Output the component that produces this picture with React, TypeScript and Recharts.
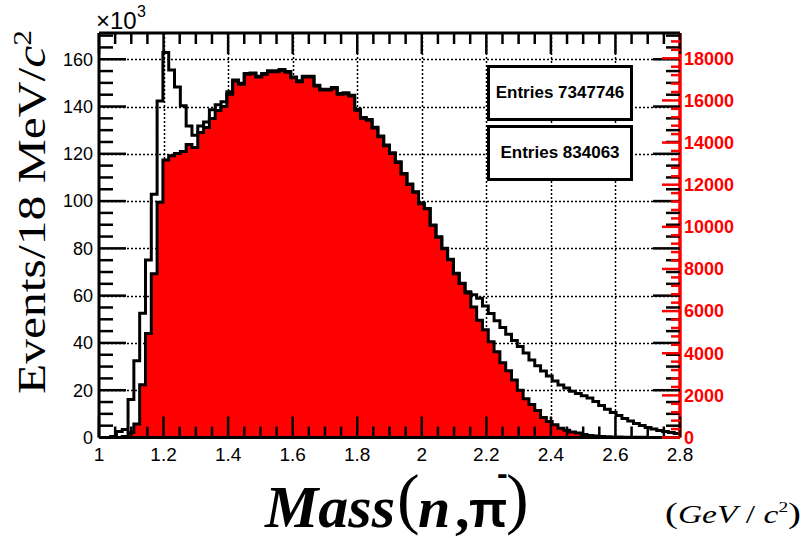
import React from 'react';
import { ComposedChart, Area, Line, XAxis, YAxis, ReferenceLine, CartesianGrid } from 'recharts';

// ---- data: histogram bins, 18 MeV wide, starting at 1.0 GeV ----
const binStart = 1.0;
const binWidth = 0.018;

// all events (left axis, units of 10^3)
const allEntries = [
  0, 0, 0.4, 2.5, 3.4, 16.1, 32.5, 52.6, 75.1, 102.9,
  142.3, 162.9, 155.4, 148.3, 140.3, 131.8, 127.9, 131.8, 133.5, 138.6,
  140.7, 142.0, 146.2, 151.2, 149.8, 154.0, 154.2, 152.8, 154.0, 155.1,
  155.1, 155.7, 154.8, 152.5, 150.9, 152.8, 152.8, 149.0, 147.3, 147.3,
  148.1, 145.5, 145.8, 144.8, 138.8, 135.4, 134.5, 131.2, 127.5, 123.7,
  120.4, 116.6, 111.7, 107.2, 104.0, 99.1, 96.9, 89.9, 84.9, 80.0,
  75.4, 69.5, 65.2, 61.7, 60.4, 58.9, 55.6, 52.4, 49.4, 46.5,
  43.7, 41.0, 38.5, 35.7, 32.8, 30.4, 28.1, 26.0, 23.9, 22.2,
  20.9, 19.6, 18.6, 17.7, 16.7, 15.2, 13.5, 12.0, 10.6, 9.3,
  8.0, 7.0, 5.9, 5.1, 4.2, 3.6, 3.0, 2.5, 2.1, 1.7,
];

// selected events (right axis)
const selectedEntries = [
  0, 0, 0, 0, 47, 237, 639, 2507, 4939, 7778,
  11165, 13171, 13374, 13483, 13578, 13909, 13767, 14477, 14713, 15139,
  15518, 15707, 16294, 16923, 16767, 17240, 17268, 17112, 17240, 17363,
  17363, 17429, 17334, 17079, 16890, 17112, 17112, 16686, 16497, 16497,
  16577, 16294, 16322, 16213, 15537, 15158, 15063, 14685, 14273, 13848,
  13483, 13058, 12509, 12003, 11638, 11090, 10853, 10063, 9509, 8961,
  8440, 7778, 7305, 6860, 6198, 5568, 5109, 4542, 4069, 3548,
  3170, 2730, 2247, 1845, 1561, 1277, 946, 757, 601, 445,
  345, 260, 213, 142, 95, 71, 47, 33, 24, 19,
  14, 10, 8, 6, 4, 3, 2, 1, 1, 0,
];

const xMajorTicks = [1, 1.2, 1.4, 1.6, 1.8, 2, 2.2, 2.4, 2.6, 2.8];
const leftMajorTicks = [0, 20, 40, 60, 80, 100, 120, 140, 160];
const rightMajorTicks = [0, 2000, 4000, 6000, 8000, 10000, 12000, 14000, 16000, 18000];
const gridX = [1.2, 1.4, 1.6, 1.8, 2, 2.2, 2.4, 2.6];
const gridY = [20, 40, 60, 80, 100, 120, 140, 160];
const legendEntries = ['Entries 7347746', 'Entries 834063'];

const X_DOMAIN: [number, number] = [1, 2.8];
const LEFT_DOMAIN: [number, number] = [0, 171.1];
const RIGHT_DOMAIN: [number, number] = [0, 19200];

// ---- layout ----
const W = 804;
const H = 538;
const PL = 99;
const PR = 680;
const PT = 33;
const PB = 437.5;
const LEFT_W = 60;
const RIGHT_W = 60;
const BOTTOM_H = 30;
const TOP_H = 20;
const SANS = '"Liberation Sans", Arial, sans-serif';
const SERIF = '"Liberation Serif", "Times New Roman", serif';

const data = allEntries.map((v, i) => ({
  x: +(binStart + i * binWidth).toFixed(3),
  all: v,
  sel: selectedEntries[i],
}));
data.push({ x: X_DOMAIN[1], all: allEntries[allEntries.length - 1], sel: selectedEntries[selectedEntries.length - 1] });

// minor ticks between majors
const withMinors = (majors: number[], n: number) => {
  const out: number[] = [];
  for (let i = 0; i < majors.length - 1; i++) {
    const step = (majors[i + 1] - majors[i]) / n;
    for (let k = 0; k < n; k++) out.push(+(majors[i] + k * step).toFixed(4));
  }
  out.push(majors[majors.length - 1]);
  return out;
};
const xTicks = withMinors(xMajorTicks, 4);
const leftTicks = [...withMinors(leftMajorTicks, 4), 165, 170];
const rightTicks = [...withMinors(rightMajorTicks, 5), 18400, 18800];

const isIn = (v: number, arr: number[]) => arr.some((a) => Math.abs(a - v) < 1e-6);

// grid positions through the axis scale
const scaleVals = (ax: any, vals: number[]) => {
  if (!ax) return [];
  const s = ax.scale;
  let out: number[] = [];
  if (typeof s === 'function') out = vals.map((v) => s(v));
  else if (s && typeof s.map === 'function') out = vals.map((v) => s.map(v));
  if (out.length && out.every((p) => Number.isFinite(p))) return out.map((p) => Math.round(p) + 0.5);
  const ticks = Array.isArray(ax.ticks) ? ax.ticks : [];
  return ticks
    .filter((t: any) => t && typeof t === 'object' && isIn(t.value, vals) && Number.isFinite(t.coordinate))
    .map((t: any) => Math.round(t.coordinate) + 0.5);
};
const vGen = (p: any) => scaleVals(p && p.xAxis, gridX);
const hGen = (p: any) => scaleVals(p && p.yAxis, gridY);

const BottomTick = (props: any) => {
  const { x, payload } = props;
  const v = payload.value;
  const major = isIn(v, xMajorTicks);
  const len = major ? 21 : 11;
  return (
    <g>
      <line x1={x} x2={x} y1={PB} y2={PB - len} stroke="#000" strokeWidth={2.5} />
      <line x1={x} x2={x} y1={PT} y2={PT + len} stroke="#000" strokeWidth={2.5} />
      {major && (
        <text x={x} y={PB + 23} textAnchor="middle" fontSize={19} fontFamily={SANS} fill="#000">
          {String(+v.toFixed(2))}
        </text>
      )}
    </g>
  );
};

const LeftTick = (props: any) => {
  const { y, payload } = props;
  const v = payload.value;
  const major = isIn(v, leftMajorTicks);
  const len = major ? 27 : 14;
  return (
    <g>
      <line x1={PL} x2={PL + len} y1={y} y2={y} stroke="#000" strokeWidth={2.5} />
      <line x1={PR} x2={PR - len} y1={y} y2={y} stroke="#000" strokeWidth={2.5} />
      {major && (
        <text x={PL - 6} y={y} dy="0.35em" textAnchor="end" fontSize={18} fontFamily={SANS} fill="#000">
          {v}
        </text>
      )}
    </g>
  );
};

const RightTick = (props: any) => {
  const { y, payload } = props;
  const v = payload.value;
  const major = isIn(v, rightMajorTicks);
  const len = major ? 18 : 9;
  return (
    <g>
      <line x1={PR} x2={PR - len} y1={y} y2={y} stroke="#ff0000" strokeWidth={2.5} />
      {major && (
        <text x={PR + 4} y={y} dy="0.35em" textAnchor="start" fontSize={18} fontWeight="bold" fontFamily={SANS} fill="#ff0000">
          {v}
        </text>
      )}
    </g>
  );
};

export default function App() {
  return (
    <div style={{ position: 'absolute', left: 0, top: 0, width: W, height: H, background: '#fff' }}>
      <ComposedChart
        width={W}
        height={H}
        data={data}
        margin={{ left: PL - LEFT_W, right: W - PR - RIGHT_W, top: PT - TOP_H, bottom: H - PB - BOTTOM_H }}
      >
        <CartesianGrid
          xAxisId="b"
          yAxisId="l"
          stroke="#000"
          strokeWidth={1.5}
          strokeDasharray="2 2"
          verticalValues={gridX}
          horizontalValues={gridY}
          verticalCoordinatesGenerator={vGen}
          horizontalCoordinatesGenerator={hGen}
        />
        <XAxis
          xAxisId="b"
          dataKey="x"
          type="number"
          domain={X_DOMAIN}
          allowDataOverflow
          ticks={xTicks}
          interval={0}
          height={BOTTOM_H}
          tickLine={false}
          tickSize={0}
          tickMargin={0}
          tick={<BottomTick />}
          axisLine={{ stroke: '#000', strokeWidth: 3 }}
        />
        <XAxis
          xAxisId="t"
          orientation="top"
          type="number"
          domain={X_DOMAIN}
          allowDataOverflow
          height={TOP_H}
          tick={false}
          tickLine={false}
          axisLine={{ stroke: '#000', strokeWidth: 3 }}
        />
        <YAxis
          yAxisId="l"
          orientation="left"
          type="number"
          domain={LEFT_DOMAIN}
          allowDataOverflow
          ticks={leftTicks}
          interval={0}
          width={LEFT_W}
          tickLine={false}
          tickSize={0}
          tickMargin={0}
          tick={<LeftTick />}
          axisLine={{ stroke: '#000', strokeWidth: 3 }}
        />
        <YAxis
          yAxisId="r"
          orientation="right"
          type="number"
          domain={RIGHT_DOMAIN}
          allowDataOverflow
          ticks={rightTicks}
          interval={0}
          width={RIGHT_W}
          tickLine={false}
          tickSize={0}
          tickMargin={0}
          tick={<RightTick />}
          axisLine={{ stroke: '#ff0000', strokeWidth: 3.5 }}
        />
        <Area
          xAxisId="b"
          yAxisId="r"
          dataKey="sel"
          type="stepAfter"
          fill="#ff0000"
          fillOpacity={1}
          stroke="#000"
          strokeWidth={3}
          dot={false}
          activeDot={false}
          isAnimationActive={false}
        />
        <Line
          xAxisId="b"
          yAxisId="l"
          dataKey="all"
          type="stepAfter"
          stroke="#000"
          strokeWidth={3}
          dot={false}
          activeDot={false}
          isAnimationActive={false}
        />
        <ReferenceLine xAxisId="b" yAxisId="l" y={0} stroke="#000" strokeWidth={3} />
      </ComposedChart>

      {legendEntries.map((t, i) => (
        <div
          key={t}
          style={{
            position: 'absolute',
            left: 487,
            top: 65 + i * 60,
            width: 146,
            height: 56,
            boxSizing: 'border-box',
            border: '3px solid #000',
            background: '#fff',
            display: 'flex',
            alignItems: 'center',
            justifyContent: 'center',
            fontFamily: SANS,
            fontWeight: 'bold',
            fontSize: 17,
            color: '#000',
          }}
        >
          {t}
        </div>
      ))}

      <svg width={W} height={H} style={{ position: 'absolute', left: 0, top: 0, pointerEvents: 'none' }}>
        <text x={96} y={29} fontSize={24} fontFamily={SANS} fill="#000">
          ×10
        </text>
        <text x={137} y={17} fontSize={16} fontFamily={SANS} fill="#000">
          3
        </text>
        <text
          transform="rotate(-90)"
          x={-212}
          y={45}
          textAnchor="middle"
          fontSize={41}
          fontFamily={SERIF}
          fill="#000"
          textLength={364}
          lengthAdjust="spacingAndGlyphs"
        >
          Events/18 MeV/<tspan fontStyle="italic">c</tspan>
          <tspan dy={-14} fontSize={26}>2</tspan>
        </text>

        <text x={265} y={527} fontSize={60} fontWeight="bold" fontStyle="italic" fontFamily={SERIF} fill="#000">
          Mass
        </text>
        <text x={397} y={521} fontSize={68} fontFamily={SERIF} fill="#000">
          (
        </text>
        <text x={418} y={527} fontSize={58} fontWeight="bold" fontStyle="italic" fontFamily={SERIF} fill="#000">
          n
        </text>
        <text x={455} y={527} fontSize={58} fontWeight="bold" fontFamily={SERIF} fill="#000">
          ,
        </text>
        <text x={469} y={527} fontSize={50} fontWeight="bold" fontFamily={SANS} fill="#000">
          π
        </text>
        <text x={497} y={484} fontSize={32} fontWeight="bold" fontFamily={SANS} fill="#000">
          -
        </text>
        <text x={506} y={521} fontSize={68} fontFamily={SERIF} fill="#000">
          )
        </text>

        <text x={665} y={523} fontSize={26} fontFamily={SERIF} fill="#000" textLength={136} lengthAdjust="spacingAndGlyphs">
          <tspan fontSize={30}>(</tspan>
          <tspan fontStyle="italic">GeV</tspan>
          <tspan> / </tspan>
          <tspan fontStyle="italic">c</tspan>
          <tspan dy={-11} fontSize={15}>2</tspan>
          <tspan dy={11} fontSize={30}>)</tspan>
        </text>
      </svg>
    </div>
  );
}
